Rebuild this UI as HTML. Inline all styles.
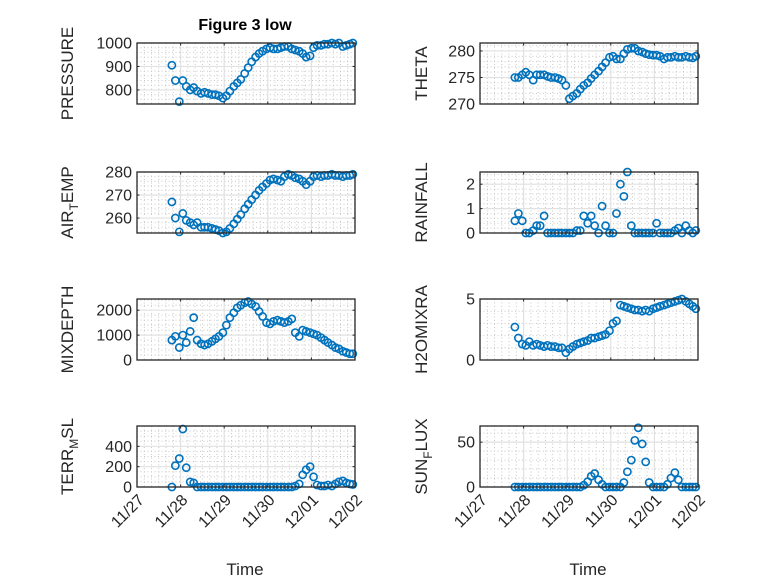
<!DOCTYPE html>
<html><head><meta charset="utf-8"><style>
html,body{margin:0;padding:0;background:#fff;}
svg{display:block;font-family:"Liberation Sans",sans-serif;}
</style></head><body>
<svg id="fig" width="778" height="583" viewBox="0 0 778 583">
<rect width="778" height="583" fill="#fff"/>
<text x="245" y="30" text-anchor="middle" font-size="16" font-weight="bold" fill="#000">Figure 3 low</text>
</svg>
<script>
// time in days since 11/27 00:00
const times=[0.80,0.88,0.97,1.05,1.13,1.22,1.30,1.38,1.47,1.55,1.63,1.72,1.80,1.88,1.97,2.05,2.13,2.22,2.30,2.38,2.47,2.55,2.63,2.72,2.80,2.88,2.97,3.05,3.13,3.22,3.30,3.38,3.47,3.55,3.63,3.72,3.80,3.88,3.97,4.05,4.13,4.22,4.30,4.38,4.47,4.55,4.63,4.72,4.80,4.88,4.95];
const xTickLabels=["11/27","11/28","11/29","11/30","12/01","12/02"];
const pressure=[905,840,750,840,815,800,810,795,785,790,785,780,780,775,765,775,795,815,830,845,870,895,920,940,955,965,975,980,975,975,980,985,985,975,970,965,955,940,945,980,990,990,995,995,1000,995,1000,985,990,995,1000];
const theta=[275,275,275.5,276,275.5,274.5,275.5,275.5,275.5,275.2,275,275,274.8,274.5,273.5,271,271.5,272,272.8,273.5,274,274.8,275.5,276.2,277,277.8,278.8,279,278.5,278.5,279.5,280.3,280.5,280.5,280,279.8,279.5,279.3,279.2,279.2,279,278.5,278.8,278.8,279,278.8,278.8,279,278.8,278.7,279];
const airTemp=[267,260,254,262,259,258,257,258,256,256,256,255.5,255,254.5,253.5,254,255.5,257.5,259.5,261.5,264,266,268,270,272,273.5,275,276.5,277,276.5,276,278,279,278.5,277.5,277,276,274.5,276,278,278.5,278,278.5,278.5,279,278.5,278.5,278,278.5,278.5,279];
const rainfall=[0.5,0.8,0.5,0,0,0.1,0.3,0.3,0.7,0,0,0,0,0,0,0,0,0.1,0.1,0.7,0.4,0.7,0.3,0,1.1,0.3,0,0,0.8,2.0,1.5,2.5,0.3,0,0,0,0,0,0,0.4,0,0,0,0,0.1,0.2,0,0.3,0.1,0,0.1];
const mixDepth=[800,950,500,1000,700,1150,1700,800,650,600,650,750,850,950,1100,1400,1700,1900,2100,2200,2300,2350,2250,2150,1950,1750,1500,1450,1550,1600,1550,1500,1550,1650,1100,950,1200,1150,1100,1050,1000,900,800,700,600,500,450,350,300,250,250];
const h2oMix=[2.7,1.8,1.3,1.2,1.5,1.2,1.3,1.2,1.1,1.2,1.1,1.1,1.0,1.0,0.6,0.9,1.1,1.3,1.4,1.5,1.6,1.8,1.8,1.9,2.0,2.1,2.4,3.0,3.2,4.5,4.4,4.3,4.2,4.1,4.1,4.0,4.1,4.0,4.2,4.3,4.4,4.5,4.6,4.7,4.8,4.9,5.0,4.8,4.6,4.4,4.2];
const terrMsl=[0,210,280,570,190,50,40,0,0,0,0,0,0,0,0,0,0,0,0,0,0,0,0,0,0,0,0,0,0,0,0,0,0,0,10,30,120,170,200,100,20,10,10,20,10,30,50,60,40,30,25];
const sunFlux=[0,0,0,0,0,0,0,0,0,0,0,0,0,0,0,0,0,0,0,2,6,12,15,8,3,0,0,0,0,0,5,17,30,52,66,48,28,5,0,0,0,0,3,10,16,8,0,0,0,0,0];

const NS="http://www.w3.org/2000/svg";
const svg=document.getElementById('fig');
function el(tag,attrs,parent){const e=document.createElementNS(NS,tag);for(const k in attrs)e.setAttribute(k,attrs[k]);(parent||svg).appendChild(e);return e;}

const panels=[
 {name:"pressure",label:["PRESSURE"],data:pressure,x:137,y:43,ymin:740,ymax:1000,ticks:[800,900,1000],minor:20,lx:67},
 {name:"theta",label:["THETA"],data:theta,x:480,y:43,ymin:270,ymax:281.5,ticks:[270,275,280],minor:1,lx:421},
 {name:"air-temp",label:["AIR","T","EMP"],data:airTemp,x:137,y:172,ymin:253.5,ymax:280,ticks:[260,270,280],minor:2,lx:67},
 {name:"rainfall",label:["RAINFALL"],data:rainfall,x:480,y:172,ymin:0,ymax:2.5,ticks:[0,1,2],minor:0.2,lx:421},
 {name:"mixdepth",label:["MIXDEPTH"],data:mixDepth,x:137,y:299,ymin:0,ymax:2450,ticks:[0,1000,2000],minor:200,lx:67},
 {name:"h2omixra",label:["H2OMIXRA"],data:h2oMix,x:480,y:299,ymin:0,ymax:5,ticks:[0,5],minor:1,lx:421},
 {name:"terr-msl",label:["TERR","M","SL"],data:terrMsl,x:137,y:426,ymin:0,ymax:600,ticks:[0,200,400],minor:50,lx:67,showX:true},
 {name:"sun-flux",label:["SUN","F","LUX"],data:sunFlux,x:480,y:426,ymin:0,ymax:68,ticks:[0,50],minor:10,lx:421,showX:true}
];
const W=218,H=61,XMIN=0,XMAX=5;

panels.forEach(p=>{
 const g=el('g',{});
 
 
 const sx=t=>p.x+(t-XMIN)/(XMAX-XMIN)*W;
 const sy=v=>p.y+H-(v-p.ymin)/(p.ymax-p.ymin)*H;
 for(let d=XMIN;d<XMAX;d+=1){for(let k=1;k<6;k++){const xx=sx(d+k/6);el('line',{x1:xx,x2:xx,y1:p.y,y2:p.y+H,stroke:'#c8c8c8','stroke-width':1,'stroke-dasharray':'1,2.5'},g);}}
 const start=Math.ceil(p.ymin/p.minor)*p.minor;
 for(let v=start;v<=p.ymax+1e-9;v+=p.minor){if(p.ticks.some(t=>Math.abs(t-v)<1e-6))continue;const yy=sy(v);el('line',{x1:p.x,x2:p.x+W,y1:yy,y2:yy,stroke:'#c8c8c8','stroke-width':1,'stroke-dasharray':'1,2.5'},g);}
 for(let d=XMIN+1;d<XMAX;d++){const xx=sx(d);el('line',{x1:xx,x2:xx,y1:p.y,y2:p.y+H,stroke:'#e1e1e1','stroke-width':1.2},g);}
 p.ticks.forEach(v=>{const yy=sy(v);el('line',{x1:p.x,x2:p.x+W,y1:yy,y2:yy,stroke:'#e1e1e1','stroke-width':1.2},g);});
 p.data.forEach((v,i)=>{if(i>=times.length)return;
  const c=el('circle',{cx:sx(times[i]),cy:sy(v),r:3.6,fill:'none',stroke:'#0072BD','stroke-width':1.6},g);
  
  
 });
 el('rect',{x:p.x,y:p.y,width:W,height:H,fill:'none',stroke:'#262626','stroke-width':1.3},g);
 for(let d=XMIN;d<=XMAX;d++){const xx=sx(d);el('line',{x1:xx,x2:xx,y1:p.y+H,y2:p.y+H-2.5,stroke:'#262626','stroke-width':1},g);el('line',{x1:xx,x2:xx,y1:p.y,y2:p.y+2.5,stroke:'#262626','stroke-width':1},g);}
 p.ticks.forEach(v=>{const yy=sy(v);el('line',{x1:p.x,x2:p.x+2.5,y1:yy,y2:yy,stroke:'#262626','stroke-width':1},g);el('line',{x1:p.x+W,x2:p.x+W-2.5,y1:yy,y2:yy,stroke:'#262626','stroke-width':1},g);
  const t=el('text',{x:p.x-5,y:sy(v)+5.5,'text-anchor':'end','font-size':16,fill:'#262626'},g);t.textContent=String(v);
  
  
 });
 const cy=p.y+H/2;
 const lab=el('text',{x:0,y:0,'text-anchor':'middle','font-size':17,fill:'#262626',transform:`translate(${p.lx+6},${cy}) rotate(-90)`},g);
 
 
 if(p.label.length===1){lab.textContent=p.label[0];}
 else{const a=el('tspan',{},lab);a.textContent=p.label[0];const b=el('tspan',{dy:5,'font-size':12},lab);b.textContent=p.label[1];const c=el('tspan',{dy:-5},lab);c.textContent=p.label[2];}
 if(p.showX){
  xTickLabels.forEach((s,i)=>{const xx=sx(i);const t=el('text',{x:0,y:0,'text-anchor':'end','font-size':16,fill:'#262626',transform:`translate(${xx+8},${p.y+H+14}) rotate(-45)`},g);t.textContent=s;
   
   });
  const xt=el('text',{x:p.x+W/2-1,y:575,'text-anchor':'middle','font-size':17,fill:'#262626'},g);xt.textContent='Time';
  
  
 }
});
</script>
</body></html>
